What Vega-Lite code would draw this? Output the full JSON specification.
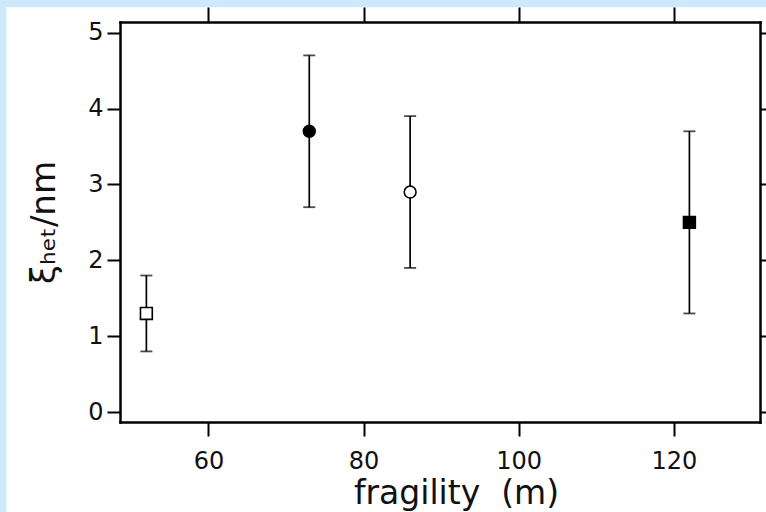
{
  "$schema": "https://vega.github.io/schema/vega-lite/v6.json",
  "width": 640,
  "height": 400,
  "autosize": {"type": "none"},
  "padding": {"left": 120, "top": 22, "right": 6, "bottom": 90},
  "background": "#cdeafd",
  "config": {
    "view": {"stroke": null},
    "axis": {
      "zindex": 1,
      "grid": false,
      "domainColor": "black",
      "domainWidth": 2.5,
      "domainCap": "square",
      "tickColor": "black",
      "tickWidth": 2,
      "labelFont": "DejaVu Sans",
      "labelColor": "#111111",
      "titleFont": "DejaVu Sans",
      "titleColor": "#111111",
      "titleFontWeight": "normal"
    }
  },
  "data": {
    "values": [
      {"series": "A", "fragility": 52, "xi": 1.3, "lo": 0.8, "hi": 1.8},
      {"series": "B", "fragility": 73, "xi": 3.7, "lo": 2.7, "hi": 4.7},
      {"series": "C", "fragility": 86, "xi": 2.9, "lo": 1.9, "hi": 3.9},
      {"series": "D", "fragility": 122, "xi": 2.5, "lo": 1.3, "hi": 3.7}
    ]
  },
  "resolve": {"axis": {"x": "independent", "y": "independent"}},
  "layer": [
    {
      "data": {"values": [{}]},
      "mark": {"type": "rect", "fill": "white", "stroke": null},
      "encoding": {
        "x": {"datum": 33.94, "type": "quantitative", "scale": {"domain": [48.6, 131.1], "nice": false, "zero": false}, "axis": null},
        "x2": {"datum": 300},
        "y": {"datum": -3, "type": "quantitative", "scale": {"domain": [-0.13, 5.14], "nice": false, "zero": false}, "axis": null},
        "y2": {"datum": 5.335}
      }
    },
    {
      "mark": {"type": "rule", "color": "black", "strokeWidth": 1.7},
      "encoding": {
        "x": {
          "field": "fragility", "type": "quantitative",
          "scale": {"domain": [48.6, 131.1], "nice": false, "zero": false},
          "axis": {
            "orient": "bottom", "zindex": 2, "values": [60, 80, 100, 120], "tickSize": 14,
            "labelFontSize": 24, "labelPadding": 13,
            "title": "fragility\u00a0\u00a0(m)", "titleFontSize": 33, "titlePadding": 4, "titleX": 336
          }
        },
        "y": {
          "field": "lo", "type": "quantitative",
          "scale": {"domain": [-0.13, 5.14], "nice": false, "zero": false},
          "axis": {
            "orient": "left", "zindex": 2, "values": [0, 1, 2, 3, 4, 5], "tickSize": 13,
            "labelFontSize": 24, "labelPadding": 4,
            "title": "ξₕₑₜ/nm", "titleFontSize": 34, "titlePadding": 26
          }
        },
        "y2": {"field": "hi"}
      }
    },
    {
      "mark": {"type": "tick", "orient": "horizontal", "color": "black", "size": 12, "thickness": 1.8},
      "encoding": {
        "x": {
          "field": "fragility", "type": "quantitative",
          "scale": {"domain": [48.6, 131.1], "nice": false, "zero": false},
          "axis": {"orient": "top", "zindex": 2, "values": [60, 80, 100, 120], "tickSize": 15, "labels": false, "title": null}
        },
        "y": {
          "field": "lo", "type": "quantitative",
          "scale": {"domain": [-0.13, 5.14], "nice": false, "zero": false},
          "axis": {"orient": "right", "zindex": 2, "values": [0, 1, 2, 3, 4, 5], "tickSize": 10, "labels": false, "title": null}
        }
      }
    },
    {
      "mark": {"type": "tick", "orient": "horizontal", "color": "black", "size": 12, "thickness": 1.8},
      "encoding": {
        "x": {"field": "fragility", "type": "quantitative", "scale": {"domain": [48.6, 131.1], "nice": false, "zero": false}, "axis": null},
        "y": {"field": "hi", "type": "quantitative", "scale": {"domain": [-0.13, 5.14], "nice": false, "zero": false}, "axis": null}
      }
    },
    {
      "mark": {"type": "point", "filled": true, "stroke": "black", "strokeWidth": 1.6, "opacity": 1, "size": 140},
      "encoding": {
        "x": {"field": "fragility", "type": "quantitative", "scale": {"domain": [48.6, 131.1], "nice": false, "zero": false}, "axis": null},
        "y": {"field": "xi", "type": "quantitative", "scale": {"domain": [-0.13, 5.14], "nice": false, "zero": false}, "axis": null},
        "shape": {"field": "series", "type": "nominal", "scale": {"domain": ["A", "B", "C", "D"], "range": ["square", "circle", "circle", "square"]}, "legend": null},
        "fill": {"field": "series", "type": "nominal", "scale": {"domain": ["A", "B", "C", "D"], "range": ["white", "black", "white", "black"]}, "legend": null}
      }
    }
  ]
}
